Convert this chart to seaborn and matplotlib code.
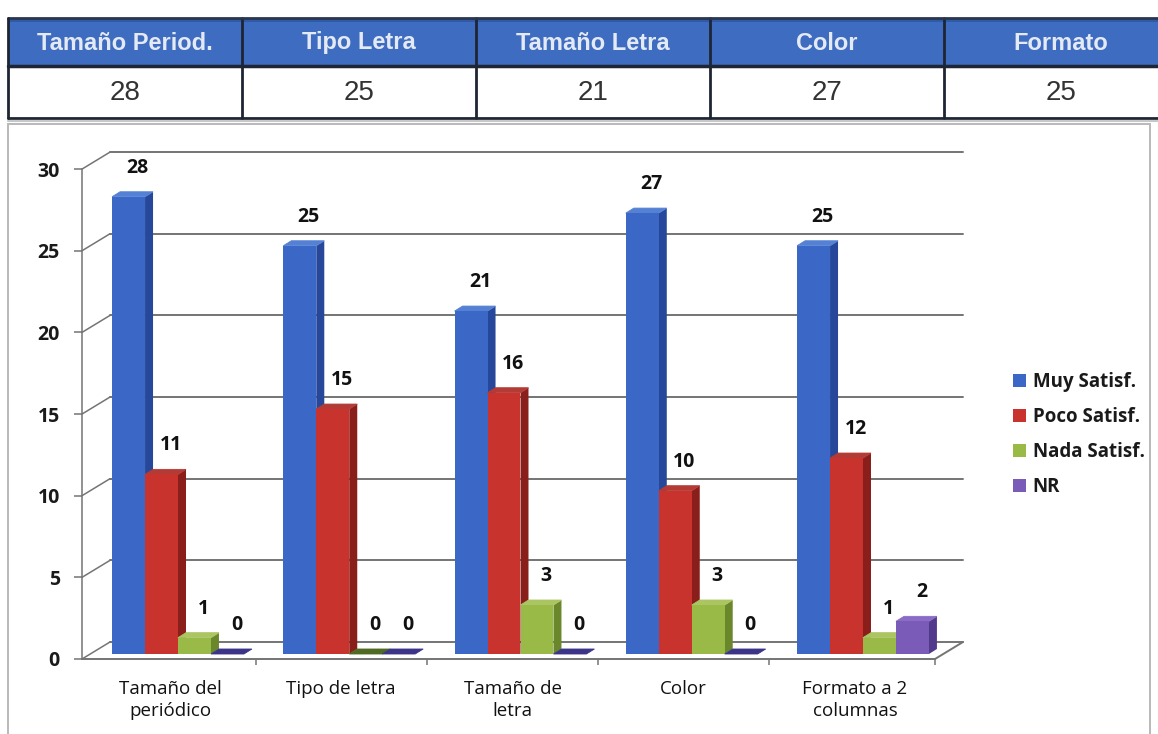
import numpy as np
import pandas as pd
import matplotlib
matplotlib.use("Agg")
import matplotlib.pyplot as plt
import matplotlib.transforms as mtransforms
from matplotlib.patches import Rectangle, Polygon, Patch
import seaborn as sns

# ---- data -------------------------------------------------------------
categories = ["Tamaño del\nperiódico", "Tipo de letra", "Tamaño de\nletra",
              "Color", "Formato a 2\ncolumnas"]
series = ["Muy Satisf.", "Poco Satisf.", "Nada Satisf.", "NR"]
muy_satisf = [28, 25, 21, 27, 25]
poco_satisf = [11, 15, 16, 10, 12]
nada_satisf = [1, 0, 3, 3, 1]
no_responde = [0, 0, 0, 0, 2]
table_headers = ["Tamaño Period.", "Tipo Letra", "Tamaño Letra", "Color", "Formato"]
table_values = [28, 25, 21, 27, 25]
y_ticks = [0, 5, 10, 15, 20, 25, 30]

# ---- style ------------------------------------------------------------
front_colors = ["#3b68c6", "#c8332e", "#9aba48", "#7a5bb8"]
side_colors = ["#26479a", "#8a1e1b", "#6a882b", "#52398c"]
top_colors = ["#5581d4", "#b33a35", "#aac562", "#8a6cc6"]
flat_colors = ["#2a3f8a", "#7a1f1c", "#4f6a22", "#3b3488"]
wall_color = "#747474"
chart_font = ["Open Sans", "DejaVu Sans"]

sns.set_theme(style="white")
plt.rcParams["font.family"] = chart_font

W, H = 1158, 734
fig = plt.figure(figsize=(W / 100, H / 100), dpi=100, facecolor="white")

# background layer in pixel units: chart frame and summary table
bg = fig.add_axes([0, 0, 1, 1], zorder=0)
bg.set_xlim(0, W)
bg.set_ylim(H, 0)
bg.axis("off")

bg.add_patch(Rectangle((8, 124), 1142, 620, facecolor="white",
                       edgecolor="#b9b9b9", lw=1.4))

col_w = 234
tab_left = 8
row_top, row_mid, row_bot = 18, 66, 118
for i, (hdr, val) in enumerate(zip(table_headers, table_values)):
    x0 = tab_left + i * col_w
    bg.add_patch(Rectangle((x0, row_top), col_w, row_mid - row_top,
                           facecolor="#3d6cc0", edgecolor="none"))
    bg.add_patch(Rectangle((x0, row_top), col_w, 4,
                           facecolor="#2f5aa6", edgecolor="none"))
    bg.add_patch(Rectangle((x0, row_mid), col_w, row_bot - row_mid,
                           facecolor="white", edgecolor="none"))
    bg.text(x0 + col_w / 2, (row_top + row_mid) / 2 + 1, hdr,
            ha="center", va="center", color="#e4eaf4", fontsize=17,
            fontweight="bold", family="Liberation Sans")
    bg.text(x0 + col_w / 2, (row_mid + row_bot) / 2 + 1, str(val),
            ha="center", va="center", color="#333333", fontsize=20,
            family="Liberation Sans")
    if i > 0:
        bg.plot([x0, x0], [row_top, row_bot], color="#1e2533", lw=2)
tab_right = tab_left + len(table_headers) * col_w
bg.plot([tab_left, tab_right], [row_top, row_top], color="#2a3550", lw=2)
bg.plot([tab_left, tab_right], [row_mid, row_mid], color="#1e2533", lw=2.5)
bg.plot([tab_left, tab_right], [row_bot, row_bot], color="#1e2533", lw=2)
bg.plot([tab_left, tab_right], [row_bot + 3, row_bot + 3], color="#c8c8c8", lw=1.5)
bg.plot([tab_left, tab_left], [row_top, row_bot], color="#1e2533", lw=2)

# ---- bar chart (front plane of the 3-D box) ---------------------------
AX_L, AX_R, AX_B = 82, 935, 659       # pixel frame of the front plane
PX_X, PX_Y = 171.25, 16.33            # pixels per category / per unit
CAT0 = 170                            # pixel centre of first category
ax = fig.add_axes([AX_L / W, (H - AX_B) / H, (AX_R - AX_L) / W, 30 * PX_Y / H],
                  zorder=1)
ax.set_facecolor("none")
x_lo, x_hi = (AX_L - CAT0) / PX_X, (AX_R - CAT0) / PX_X

df = pd.DataFrame({
    "categoria": np.repeat(categories, len(series)),
    "serie": series * len(categories),
    "valor": np.column_stack([muy_satisf, poco_satisf, nada_satisf,
                              no_responde]).ravel(),
})
sns.barplot(data=df, x="categoria", y="valor", hue="serie", order=categories,
            hue_order=series, palette=front_colors, saturation=1, width=0.77,
            gap=0, errorbar=None, legend=False, edgecolor="none", ax=ax)

ax.set_xlim(x_lo, x_hi)
ax.set_ylim(0, 30)
for s in ax.spines.values():
    s.set_visible(False)

# depth offsets in data units
wall_dx, wall_dy = 28 / PX_X, 17 / PX_Y
bar_dx, bar_dy = 8 / PX_X, 5 / PX_Y
shift = mtransforms.ScaledTranslation(8 / 100, 5 / 100, fig.dpi_scale_trans)
bar_tr = ax.transData + shift

# back wall, floor and side wall
for v in y_ticks:
    ax.plot([x_lo + wall_dx, x_hi + wall_dx], [v + wall_dy, v + wall_dy],
            color=wall_color, lw=1.4, zorder=1, clip_on=False)
    ax.plot([x_lo, x_lo + wall_dx], [v, v + wall_dy], color=wall_color,
            lw=1.1, zorder=1, clip_on=False)
ax.plot([x_lo, x_lo], [0, 30], color=wall_color, lw=1.1, zorder=1, clip_on=False)
ax.plot([x_lo, x_hi], [0, 0], color=wall_color, lw=1.4, zorder=1, clip_on=False)
ax.plot([x_hi, x_hi + wall_dx], [0, wall_dy], color=wall_color, lw=1.4,
        zorder=1, clip_on=False)

# extrude the bars: side and top faces, then value labels
bars = []
for k, cont in enumerate(ax.containers):
    for p in cont.patches:
        bars.append((p.get_x(), k, p))
bars.sort(key=lambda t: t[0])
for i, (_, k, p) in enumerate(bars):
    x, w, h = p.get_x(), p.get_width(), p.get_height()
    z = 3 + 0.01 * i
    p.set_transform(bar_tr)
    p.set_zorder(z + 0.005)
    p.set_clip_on(False)
    side = Polygon([(x + w, 0), (x + w + bar_dx, bar_dy),
                    (x + w + bar_dx, h + bar_dy), (x + w, h)],
                   closed=True, facecolor=side_colors[k], edgecolor="none",
                   transform=bar_tr, zorder=z, clip_on=False)
    topc = top_colors[k] if h > 0 else flat_colors[k]
    topf = Polygon([(x, h), (x + bar_dx, h + bar_dy),
                    (x + w + bar_dx, h + bar_dy), (x + w, h)],
                   closed=True, facecolor=topc, edgecolor=topc, lw=0.6,
                   transform=bar_tr, zorder=z, clip_on=False)
    ax.add_patch(side)
    ax.add_patch(topf)
    ax.annotate(f"{h:.0f}", (x + w / 2, h), xytext=(17 * 0.72, 34 * 0.72),
                textcoords="offset points", ha="center", va="center",
                fontsize=14, fontweight="bold", color="#111111",
                zorder=10, annotation_clip=False)

# axes ticks and labels
ax.set_yticks(y_ticks)
ax.set_yticklabels([str(v) for v in y_ticks], fontweight="bold",
                   color="#1a1a1a", fontsize=14)
ax.tick_params(axis="y", left=True, length=6, width=1.1, color=wall_color,
               pad=10)
ax.set_xticks(range(len(categories)))
ax.set_xticklabels(categories, fontsize=13.5, color="#111111", linespacing=1.3)
ax.set_xticks([0.5, 1.5, 2.5, 3.5, x_hi], minor=True)
ax.tick_params(axis="x", which="major", length=0, pad=15)
ax.tick_params(axis="x", which="minor", bottom=True, length=4, width=1.1,
               color=wall_color)
ax.set_xlabel("")
ax.set_ylabel("")

# legend
handles = [Patch(facecolor=c, edgecolor="none") for c in front_colors]
leg = fig.legend(handles, series, loc="upper left",
                 bbox_to_anchor=(996 / W, 1 - 355 / H), frameon=False,
                 handlelength=0.7, handleheight=0.7, handletextpad=0.35,
                 labelspacing=0.8, prop={"family": chart_font,
                                         "weight": "bold", "size": 13.5})
for t in leg.get_texts():
    t.set_color("#1a1a1a")

fig.savefig("out.png", dpi=100, facecolor="white")
